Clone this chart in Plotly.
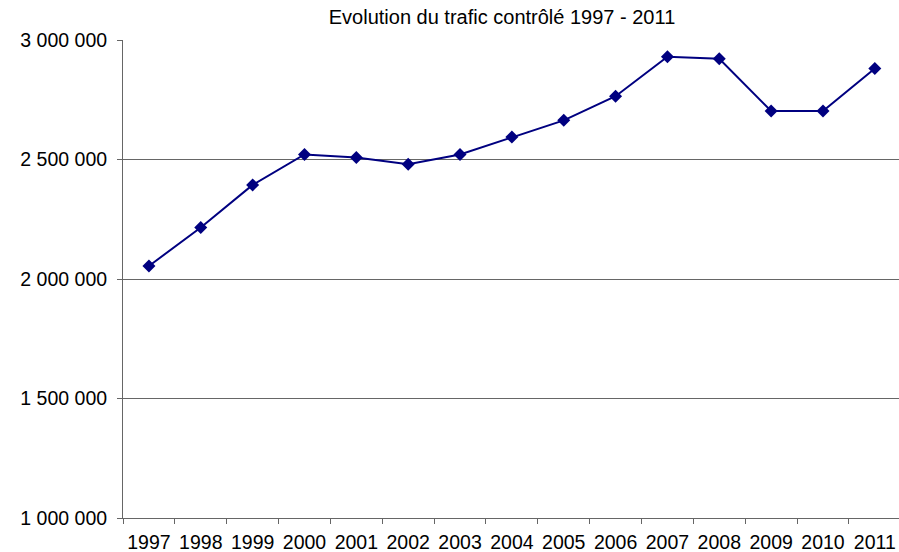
import plotly.graph_objects as go

years = ["1997", "1998", "1999", "2000", "2001", "2002", "2003", "2004",
         "2005", "2006", "2007", "2008", "2009", "2010", "2011"]
traffic = [2054600, 2215500, 2393700, 2521000, 2508400, 2480000, 2521000, 2593700,
           2663900, 2764700, 2929800, 2921400, 2702900, 2702900, 2881100]
y_ticks = [1000000, 1500000, 2000000, 2500000, 3000000]
y_labels = ["1 000 000", "1 500 000", "2 000 000", "2 500 000", "3 000 000"]
title_text = "Evolution du trafic contrôlé 1997 - 2011"

fig = go.Figure()
fig.add_trace(go.Scatter(
    x=years, y=traffic, mode="lines+markers",
    line=dict(color="#000080", width=2),
    marker=dict(symbol="diamond", size=10, color="#000080"),
    showlegend=False, cliponaxis=False,
))

font_family = "Liberation Sans, Arial, sans-serif"
fig.update_layout(
    width=899, height=552,
    margin=dict(l=123, r=0, t=40, b=34, autoexpand=False),
    paper_bgcolor="white", plot_bgcolor="white",
    font=dict(family=font_family, color="black", size=19.5),
    title=dict(text=title_text, x=0.5584, xanchor="center", y=0.969, yanchor="middle",
               font=dict(size=20, family=font_family, color="black")),
)
fig.update_xaxes(
    type="category", range=[-0.5, 14.466], tickson="boundaries",
    ticks="outside", ticklen=5, tickcolor="#666666",
    showline=True, linecolor="#666666", linewidth=1,
    showgrid=False, tickfont=dict(size=19.5), ticklabelstandoff=7,
    tickangle=0, automargin=False,
)
fig.update_yaxes(
    range=[1000000, 3000000], tickvals=y_ticks, ticktext=y_labels,
    ticks="outside", ticklen=5, tickcolor="#666666",
    showline=True, linecolor="#666666", linewidth=1,
    showgrid=True, gridcolor="#666666", gridwidth=1,
    zeroline=False, tickfont=dict(size=19.5), ticklabelstandoff=6,
    automargin=False,
)
fig.write_html(
    "out.html",
    config={"displayModeBar": False},
    post_script="document.documentElement.style.margin='0';"
                "document.body.style.margin='0';"
                "document.body.style.overflow='hidden';",
)
